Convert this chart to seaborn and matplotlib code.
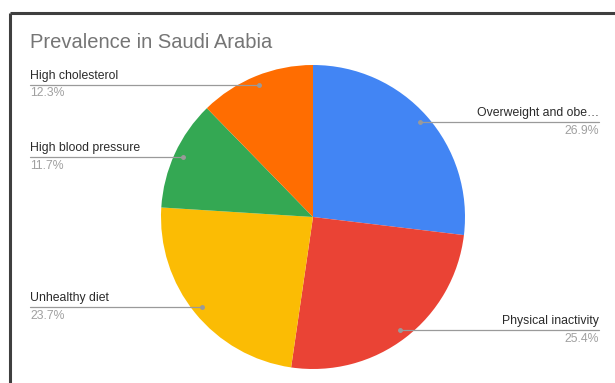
import numpy as np
import matplotlib
matplotlib.use("Agg")
import matplotlib.pyplot as plt
import seaborn as sns

categories = ["Overweight and obesity", "Physical inactivity", "Unhealthy diet",
              "High blood pressure", "High cholesterol"]
display_labels = ["Overweight and obe\u2026", "Physical inactivity", "Unhealthy diet",
                  "High blood pressure", "High cholesterol"]
values = [26.9, 25.4, 23.7, 11.7, 12.3]
colors = ["#4285F4", "#EA4335", "#FBBC04", "#34A853", "#FF6D01"]
title = "Prevalence in Saudi Arabia"

sns.set_theme(style="white")
plt.rcParams['font.family'] = ['Liberation Sans', 'DejaVu Sans']
palette = sns.color_palette(colors)

W, H = 615, 383
fig = plt.figure(figsize=(W / 100, H / 100), dpi=100)
ax = fig.add_axes([0, 0, 1, 1])

cx, cy, R = 313, H - 217, 152
ax.pie(values, colors=palette, startangle=90, counterclock=False,
       center=(cx, cy), radius=R, wedgeprops=dict(linewidth=0))
ax.set_xlim(0, W)
ax.set_ylim(0, H)
ax.set_aspect('auto')
ax.axis('off')

# frame
ax.plot([9.5, W], [H - 13, H - 13], color="#3f3f3f", lw=2.2, solid_capstyle='butt')
ax.plot([9.5, 9.5], [H - 13, 0], color="#3f3f3f", lw=2.2, solid_capstyle='butt')

ax.text(30, H - 42, title, fontsize=14.5, color="#757575", va='center', ha='left')

total = sum(values)
cum = 0.0
for lab, v in zip(display_labels, values):
    mid = (cum + v / 2) / total * 2 * np.pi
    cum += v
    px = cx + 0.94 * R * np.sin(mid)
    py = cy + 0.94 * R * np.cos(mid)
    pct = f"{v / total * 100:.1f}%"
    if np.sin(mid) >= 0:
        x0, x1, tx, ha = px, 599, 599, 'right'
    else:
        x0, x1, tx, ha = 30, px, 30, 'left'
    ax.plot([x0, x1], [py, py], color="#9a9a9a", lw=0.9)
    ax.plot([px], [py], 'o', color="#9a9a9a", ms=2.5)
    ax.text(tx, py + 3.0, lab, fontsize=8.8, color="#2a2a2a", ha=ha, va='bottom')
    ax.text(tx, py - 2.5, pct, fontsize=8.8, color="#a0a0a0", ha=ha, va='top')

fig.savefig("out.png", dpi=100)
